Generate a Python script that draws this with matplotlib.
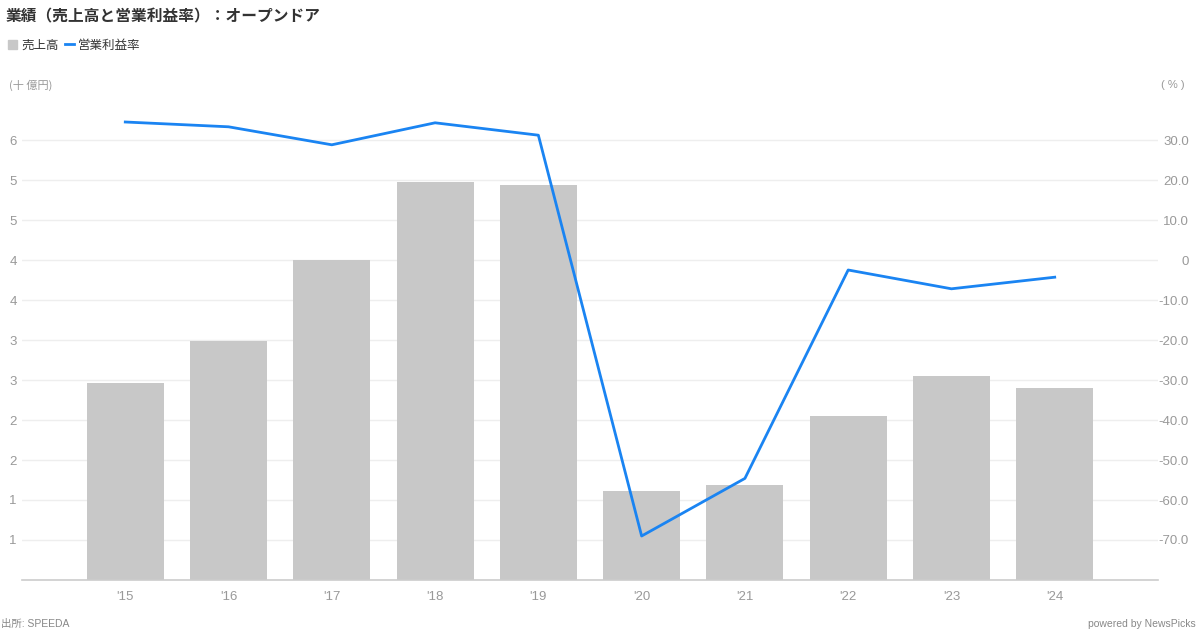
import matplotlib
matplotlib.use("Agg")
import matplotlib.pyplot as plt

plt.rcParams['font.family'] = ['Liberation Sans', 'Noto Sans CJK JP', 'DejaVu Sans']

years = ["'15", "'16", "'17", "'18", "'19", "'20", "'21", "'22", "'23", "'24"]
sales = [2.46, 2.99, 4.00, 4.97, 4.94, 1.11, 1.19, 2.05, 2.55, 2.40]
margin = [34.5, 33.3, 28.8, 34.3, 31.2, -69.0, -54.6, -2.5, -7.2, -4.3]
left_ticks = [0.5, 1.0, 1.5, 2.0, 2.5, 3.0, 3.5, 4.0, 4.5, 5.0, 5.5]
left_labels = ["1", "1", "2", "2", "3", "3", "4", "4", "5", "5", "6"]
right_ticks = [-70, -60, -50, -40, -30, -20, -10, 0, 10, 20, 30]
right_labels = ["-70.0", "-60.0", "-50.0", "-40.0", "-30.0", "-20.0", "-10.0", "0", "10.0", "20.0", "30.0"]

W, H = 1200, 630
PT = 0.72  # points per pixel at dpi 100
fig = plt.figure(figsize=(W / 100, H / 100), dpi=100)
ax = fig.add_axes([22 / W, (H - 580) / H, (1158 - 22) / W, (580 - 100) / H])
ax2 = ax.twinx()

x = list(range(len(years)))
ax.bar(x, sales, width=0.745, color="#c8c8c8", zorder=2)
ax.set_xlim(-1, 10)
ax.set_ylim(0, 6.0)
ax.grid(axis='y', color="#eeeeee", linewidth=1, zorder=0)
ax.set_axisbelow(True)

ax2.plot(x, margin, color="#1a84f2", linewidth=2, zorder=3)
ax2.set_ylim(-80, 40)

for a in (ax, ax2):
    for s in ('top', 'left', 'right', 'bottom'):
        a.spines[s].set_visible(False)
ax.spines['bottom'].set_visible(True)
ax.spines['bottom'].set_color("#cccccc")
ax.spines['bottom'].set_linewidth(1.2)

ax.tick_params(axis='y', length=0, pad=9 * PT, labelsize=9.5, labelcolor="#999999")
ax.tick_params(axis='x', length=0, pad=11 * PT, labelsize=9.5, labelcolor="#999999")
ax2.tick_params(axis='y', length=0, pad=31 * PT, labelsize=9.5, labelcolor="#999999")

ax.set_xticks(x)
ax.set_xticklabels(years)
ax.set_yticks(left_ticks)
ax.set_yticklabels(left_labels, ha='center')
ax2.set_yticks(right_ticks)
ax2.set_yticklabels(right_labels, ha='right')

fig.text(6 / W, 1 - 16 / H, "業績（売上高と営業利益率）：オープンドア", fontsize=11.3,
         fontweight='bold', color="#333333", va='center', ha='left',
         family=['Noto Sans CJK JP', 'DejaVu Sans'])
# legend
fig.patches.append(plt.Rectangle((8 / W, 1 - 49 / H), 9 / W, 9 / H, transform=fig.transFigure,
                                 color="#c8c8c8", figure=fig))
fig.text(21 / W, 1 - 45 / H, "売上高", fontsize=9, color="#333333", va='center', ha='left',
         family=['Noto Sans CJK JP', 'DejaVu Sans'])
fig.lines.append(plt.Line2D([65 / W, 74 / W], [1 - 44 / H, 1 - 44 / H], transform=fig.transFigure,
                            color="#1a84f2", linewidth=2, figure=fig))
fig.text(78 / W, 1 - 45 / H, "営業利益率", fontsize=9, color="#333333", va='center', ha='left',
         family=['Noto Sans CJK JP', 'DejaVu Sans'])

fig.text(9 / W, 1 - 85 / H, "(十 億円)", fontsize=8, color="#999999", va='center', ha='left',
         family=['Noto Sans CJK JP', 'DejaVu Sans'])
fig.text(1185 / W, 1 - 85 / H, "( % )", fontsize=8, color="#999999", va='center', ha='right')

fig.text(1 / W, 1 - 624 / H, "出所: SPEEDA", fontsize=7.5, color="#888888", va='center', ha='left')
fig.text(1196 / W, 1 - 624 / H, "powered by NewsPicks", fontsize=7.5, color="#888888", va='center', ha='right')

fig.savefig("out.png", dpi=100)
